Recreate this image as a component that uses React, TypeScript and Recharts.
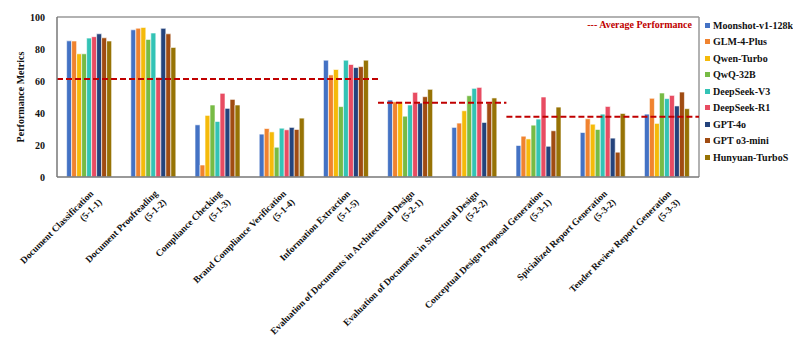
import { BarChart, Bar, XAxis, YAxis, ReferenceLine } from 'recharts';

const TASKS = [
  'Document Classification',
  'Document Proofreading',
  'Compliance Checking',
  'Brand Compliance Verification',
  'Information Extraction',
  'Evaluation of Documents in Architectural Design',
  'Evaluation of Documents in Structural Design',
  'Conceptual Design Proposal Generation',
  'Spicialized Report Generation',
  'Tender Review Report Generation',
];
const CODES = ['(5-1-1)', '(5-1-2)', '(5-1-3)', '(5-1-4)', '(5-1-5)', '(5-2-1)', '(5-2-2)', '(5-3-1)', '(5-3-2)', '(5-3-3)'];

const MODELS = [
  'Moonshot-v1-128k',
  'GLM-4-Plus',
  'Qwen-Turbo',
  'QwQ-32B',
  'DeepSeek-V3',
  'DeepSeek-R1',
  'GPT-4o',
  'GPT o3-mini',
  'Hunyuan-TurboS',
];
const COLORS = ['#4472C4', '#F0832F', '#F5BA0A', '#77BB45', '#33C3B5', '#E84C62', '#24437C', '#A04C12', '#977305'];

const moonshot = [85.1, 92, 32.6, 26.8, 73, 48.1, 31, 19.7, 27.8, 39.3];
const glm = [85, 93, 7.5, 30.3, 63.8, 47, 33.7, 25.5, 36.4, 49.2];
const qwen = [77, 93.5, 38.5, 28.2, 67.2, 47, 41.4, 23.8, 33, 33.5];
const qwq = [77, 86, 45, 18.6, 44, 38, 50.8, 32.4, 29.7, 52.5];
const dsv3 = [86.8, 90, 34.7, 30.5, 73, 45, 55.4, 36.2, 39.3, 49];
const dsr1 = [87.7, 62.3, 52.3, 29.5, 70.3, 52.9, 56, 50, 44.1, 51];
const gpt4o = [89.5, 92.9, 42.9, 31, 68.4, 46.2, 34.1, 19.2, 24.3, 44.4];
const o3mini = [87, 89.5, 48.5, 29.7, 69, 50.2, 46.2, 28.9, 15.5, 53.1];
const hunyuan = [85, 81, 45, 36.8, 73, 54.8, 49.4, 43.7, 39.7, 42.7];

const SERIES = [moonshot, glm, qwen, qwq, dsv3, dsr1, gpt4o, o3mini, hunyuan];

// group averages: value, from task, to task, which edge of the band
const AVG_VALUES = [61.3, 46.4, 37.7];
const AVG_SPANS: [number, number, 'start' | 'end'][] = [
  [0, 5, 'start'],
  [4, 6, 'end'],
  [6, 9, 'end'],
];

const data = TASKS.map((t, i) => {
  const row: any = { task: t, code: CODES[i] };
  MODELS.forEach((m, k) => (row[m] = SERIES[k][i]));
  return row;
});

const FONT = '"Liberation Serif", "Times New Roman", serif';

const TaskTick = (props: any) => {
  const { x, y, payload, index } = props;
  return (
    <g transform={`translate(${x},${y})`}>
      <text
        transform="rotate(-45)"
        textAnchor="end"
        fontFamily={FONT}
        fontWeight="bold"
        fontSize={9.5}
        fill="#111"
      >
        <tspan x={-3} y={10}>{payload.value}</tspan>
        <tspan x={-3} y={22}>{CODES[index]}</tspan>
      </text>
    </g>
  );
};

export default function App() {
  return (
    <div style={{ position: 'absolute', left: 0, top: 0, width: 793, height: 338, background: '#fff' }}>
      <BarChart
        width={793}
        height={338}
        data={data}
        margin={{ top: 17, right: 94, bottom: 0, left: 0 }}
        barCategoryGap="15%"
        barGap={0}
      >
        <XAxis
          dataKey="task"
          interval={0}
          tick={<TaskTick />}
          tickLine={false}
          axisLine={{ stroke: '#777', strokeWidth: 1.5 }}
          height={161}
        />
        <YAxis
          domain={[0, 100]}
          ticks={[0, 20, 40, 60, 80, 100]}
          width={57}
          tickLine={false}
          tickMargin={6}
          axisLine={{ stroke: '#777', strokeWidth: 1.5 }}
          tick={{ fontFamily: FONT, fontWeight: 'bold', fontSize: 10, fill: '#111' }}
          label={{
            value: 'Performance Metrics',
            angle: -90,
            position: 'insideLeft',
            offset: 20,
            style: { fontFamily: FONT, fontWeight: 'bold', fontSize: 10, fill: '#111', textAnchor: 'middle' },
          }}
        />
        <ReferenceLine y={100} stroke="#999" strokeWidth={1.5} ifOverflow="visible" />
        <ReferenceLine x={TASKS[9]} position="end" stroke="#999" strokeWidth={1.5} ifOverflow="visible" />
        {MODELS.map((m, i) => (
          <Bar key={m} dataKey={m} fill={COLORS[i]} stroke="#fff" strokeWidth={0.6} isAnimationActive={false} />
        ))}
        {AVG_SPANS.map(([a, b, pos], i) => (
          <ReferenceLine
            key={i}
            segment={[
              { x: TASKS[a], y: AVG_VALUES[i] },
              { x: TASKS[b], y: AVG_VALUES[i] },
            ]}
            position={pos}
            stroke="#C00000"
            strokeWidth={2}
            strokeDasharray="6 3"
            ifOverflow="visible"
          />
        ))}
      </BarChart>
      <div
        style={{
          position: 'absolute',
          left: 560,
          top: 19,
          width: 132,
          textAlign: 'right',
          fontFamily: FONT,
          fontWeight: 'bold',
          fontSize: 10,
          color: '#C00000',
        }}
      >
        --- Average Performance
      </div>
      <div
        style={{
          position: 'absolute',
          left: 705,
          top: 17,
          fontFamily: FONT,
          fontWeight: 'bold',
          fontSize: 10,
          color: '#111',
        }}
      >
        {MODELS.map((m, i) => (
          <div key={m} style={{ display: 'flex', alignItems: 'center', height: 16.5 }}>
            <span style={{ width: 5, height: 5, background: COLORS[i], marginRight: 3, display: 'inline-block' }} />
            {m}
          </div>
        ))}
      </div>
    </div>
  );
}
